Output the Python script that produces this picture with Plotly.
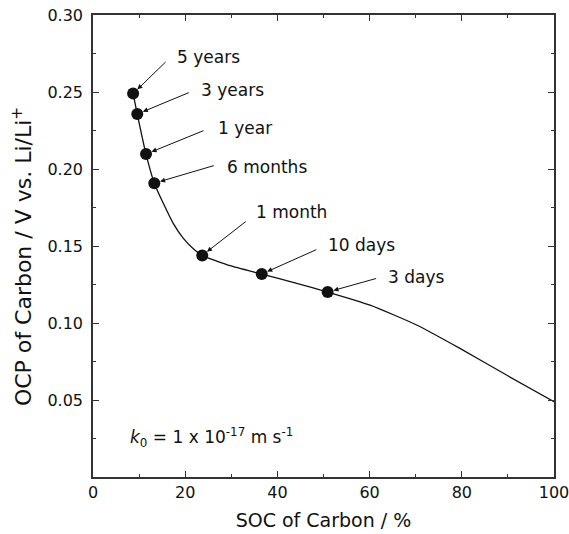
import plotly.graph_objects as go

# Simulated open-circuit potential of the carbon electrode versus its state of charge
curve_soc = [8.7, 9.6, 11.5, 13.3, 15.25, 17.4, 19.6, 21.7, 23.7, 29.7, 36.6, 44.2, 50.9, 60.1, 70.2, 79.6, 89.7, 100.0]
curve_ocp = [0.249, 0.2357, 0.2097, 0.1908, 0.1777, 0.1647, 0.1549, 0.1484, 0.1439, 0.1372, 0.1318, 0.1257, 0.1201, 0.1116, 0.0987, 0.0835, 0.0662, 0.0489]

# Storage times marked along the curve
storage_labels = ["5 years", "3 years", "1 year", "6 months", "1 month", "10 days", "3 days"]
storage_soc = [8.7, 9.6, 11.5, 13.3, 23.7, 36.6, 50.9]
storage_ocp = [0.249, 0.2357, 0.2097, 0.1908, 0.1439, 0.1318, 0.1201]

# Pixel offsets of arrow tails and label text from each marker
arrow_dx = [34, 53, 59, 61, 45, 56, 50]
arrow_dy = [-33, -22, -24, -18, -35, -25, -14]
text_dx = [42, 62, 70, 71, 52, 64, 58]
text_dy = [37, 24, 26, 16, 43, 29, 15]

x_ticks = [0, 20, 40, 60, 80, 100]
y_ticks = [0.05, 0.10, 0.15, 0.20, 0.25, 0.30]

FONT = "DejaVu Sans, Liberation Sans, Arial, sans-serif"
INK = "#111111"
AXIS = "#333333"

fig = go.Figure()
fig.add_trace(go.Scatter(
    x=curve_soc, y=curve_ocp, mode="lines",
    line=dict(color=INK, width=1.3, shape="spline", smoothing=0.5),
    showlegend=False, hoverinfo="skip",
))
fig.add_trace(go.Scatter(
    x=storage_soc, y=storage_ocp, mode="markers",
    marker=dict(color=INK, size=12),
    showlegend=False,
))

annotations = []
for lab, xs, ys, adx, ady, tdx, tdy in zip(storage_labels, storage_soc, storage_ocp,
                                           arrow_dx, arrow_dy, text_dx, text_dy):
    annotations.append(dict(
        x=xs, y=ys, xref="x", yref="y", text="", showarrow=True,
        ax=adx, ay=ady, arrowhead=2, arrowsize=1, arrowwidth=1,
        arrowcolor=INK, standoff=6,
    ))
    annotations.append(dict(
        x=xs, y=ys, xref="x", yref="y", text=lab, showarrow=False,
        xanchor="left", yanchor="middle", xshift=tdx, yshift=tdy,
        font=dict(family=FONT, size=17, color=INK),
    ))

annotations.append(dict(
    x=0.075, y=0.085, xref="paper", yref="paper", xanchor="left", yanchor="middle",
    showarrow=False,
    text="<i>k</i><sub>0</sub> = 1 x 10<sup>-17</sup> m s<sup>-1</sup>",
    font=dict(family=FONT, size=17, color=INK),
))

# Y-axis title, placed as rotated text beside the tick labels
annotations.append(dict(
    x=0, y=0.476, xref="paper", yref="paper", xanchor="center", yanchor="middle",
    xshift=-71, showarrow=False, textangle=-90,
    text="OCP of Carbon / V vs. Li/Li<sup>+</sup>",
    font=dict(family=FONT, size=22, color=INK),
))

axis_common = dict(
    showline=True, linecolor=AXIS, linewidth=1.5, mirror="ticks",
    ticks="inside", ticklen=6, tickwidth=1.3, tickcolor=AXIS,
    showgrid=False, zeroline=False, automargin=False,
    ticklabeloverflow="allow",
    tickfont=dict(family=FONT, size=16, color=INK),
)

fig.update_layout(
    width=569, height=534, autosize=False,
    margin=dict(l=93, r=15, t=15, b=57),
    paper_bgcolor="white", plot_bgcolor="white",
    font=dict(family=FONT, color=INK),
    annotations=annotations,
    xaxis=dict(
        range=[0, 100], tickvals=x_ticks,
        minor=dict(ticks="inside", ticklen=3, dtick=10, tickcolor=AXIS, tickwidth=1.3),
        title=dict(text="SOC of Carbon / %", font=dict(family=FONT, size=19, color=INK), standoff=13),
        **axis_common,
    ),
    yaxis=dict(
        range=[0, 0.30], tickvals=y_ticks, tickformat=".2f",
        minor=dict(ticks="inside", ticklen=3, dtick=0.025, tick0=0, tickcolor=AXIS, tickwidth=1.3),
        ticklabelstandoff=5,
        **axis_common,
    ),
)

fig.write_html("out.html")
